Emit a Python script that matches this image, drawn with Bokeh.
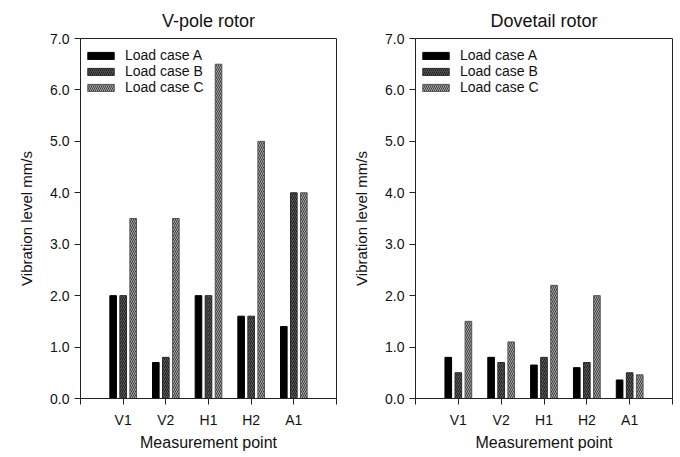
from bokeh.plotting import figure
from bokeh.layouts import row
from bokeh.models import FixedTicker, Range1d, ColumnDataSource
from bokeh.embed import file_html
from bokeh.resources import INLINE

points = ["V1", "V2", "H1", "H2", "A1"]
y_ticks = [0, 1, 2, 3, 4, 5, 6, 7]

vpole_a = [2.0, 0.7, 2.0, 1.6, 1.4]
vpole_b = [2.0, 0.8, 2.0, 1.6, 4.0]
vpole_c = [3.5, 3.5, 6.5, 5.0, 4.0]

dove_a = [0.8, 0.8, 0.65, 0.6, 0.36]
dove_b = [0.5, 0.7, 0.8, 0.7, 0.5]
dove_c = [1.5, 1.1, 2.2, 2.0, 0.46]

FONT = "Liberation Sans"


def make(title, a, b, c, width, bl, br):
    p = figure(width=width, height=456, output_backend="svg", toolbar_location=None,
               x_range=Range1d(0, 6), y_range=Range1d(0, 7),
               min_border_left=bl, min_border_right=br, min_border_top=38,
               min_border_bottom=58, title=title)
    pos = [i + 1 for i in range(len(points))]
    src = ColumnDataSource(dict(
        xa=[x - 0.235 for x in pos], xb=pos, xc=[x + 0.235 for x in pos],
        a=a, b=b, c=c))
    w = 0.155
    p.vbar(x="xa", top="a", width=w, source=src, fill_color="black",
           line_color="black", line_width=1, legend_label="Load case A")
    p.vbar(x="xb", top="b", width=w, source=src, fill_color="#5a5a5a",
           line_color="#2a2a2a", line_width=1, hatch_pattern="/",
           hatch_color="#1e1e1e", hatch_scale=4, hatch_weight=1,
           legend_label="Load case B")
    p.vbar(x="xc", top="c", width=w, source=src, fill_color="#a8a8a8",
           line_color="#555555", line_width=1, hatch_pattern="\\",
           hatch_color="#3c3c3c", hatch_scale=4, hatch_weight=1,
           legend_label="Load case C")

    p.title.text_font = FONT
    p.title.text_font_size = "18px"
    p.title.text_font_style = "normal"
    p.title.align = "center"
    p.title.text_color = "#111111"
    p.title.standoff = 16

    p.xgrid.visible = False
    p.ygrid.visible = False
    p.outline_line_color = "#222222"
    p.outline_line_width = 1

    p.yaxis.ticker = FixedTicker(ticks=y_ticks)
    p.yaxis.major_label_overrides = {t: f"{t:.1f}" for t in y_ticks}
    p.xaxis.ticker = FixedTicker(ticks=[0] + pos + [6])
    ov = {0: "", 6: ""}
    for i, name in enumerate(points):
        ov[i + 1] = name
    p.xaxis.major_label_overrides = ov

    for ax in (p.xaxis[0], p.yaxis[0]):
        ax.minor_tick_line_color = None
        ax.major_tick_in = 0
        ax.major_tick_out = 6
        ax.axis_line_color = "#222222"
        ax.major_tick_line_color = "#222222"
        ax.major_label_text_font = FONT
        ax.major_label_text_font_size = "14px"
        ax.major_label_text_color = "#111111"
        ax.axis_label_text_font = FONT
        ax.axis_label_text_font_size = "16px"
        ax.axis_label_text_font_style = "normal"
        ax.axis_label_text_color = "#111111"
    p.yaxis.axis_label_text_font_size = "15px"
    p.xaxis.axis_label = "Measurement point"
    p.yaxis.axis_label = "Vibration level mm/s"
    p.xaxis.major_label_standoff = 7
    p.xaxis.axis_label_standoff = 3
    p.yaxis.major_label_standoff = 5
    p.yaxis.axis_label_standoff = 12

    lg = p.legend[0]
    lg.location = (4, 303)
    lg.border_line_color = None
    lg.background_fill_alpha = 0
    lg.label_text_font = FONT
    lg.label_text_font_size = "14px"
    lg.label_text_color = "#111111"
    lg.glyph_width = 33
    lg.glyph_height = 9
    lg.label_height = 11
    lg.spacing = 0
    lg.padding = 4
    lg.margin = 0
    lg.label_standoff = 8
    return p


p1 = make("V-pole rotor", vpole_a, vpole_b, vpole_c, 346, 80, 10)
p2 = make("Dovetail rotor", dove_a, dove_b, dove_c, 333, 69, 7)
layout = row(p1, p2)

open("out.html", "w").write(file_html(layout, INLINE))
